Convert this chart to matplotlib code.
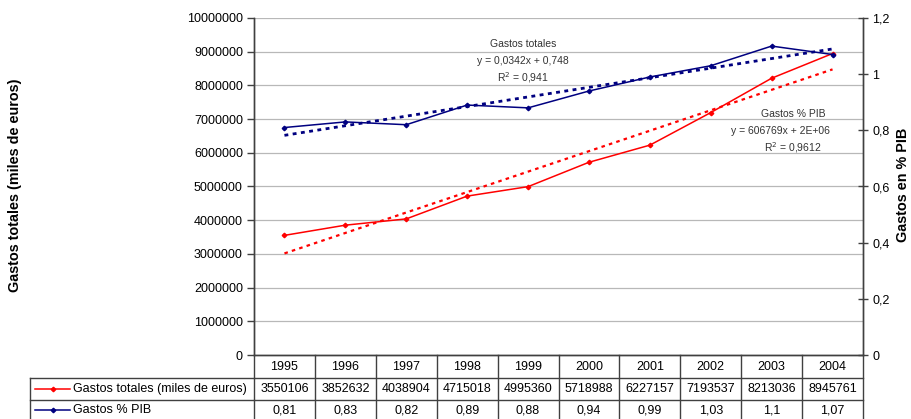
import numpy as np
import matplotlib
matplotlib.use("Agg")
import matplotlib.pyplot as plt
from matplotlib.transforms import blended_transform_factory

plt.rcParams['font.family'] = ['Liberation Sans', 'DejaVu Sans']

years = ['1995', '1996', '1997', '1998', '1999', '2000', '2001', '2002', '2003', '2004']
gastos_totales = [3550106, 3852632, 4038904, 4715018, 4995360, 5718988, 6227157, 7193537, 8213036, 8945761]
gastos_pib = [0.81, 0.83, 0.82, 0.89, 0.88, 0.94, 0.99, 1.03, 1.1, 1.07]
gastos_pib_txt = ['0,81', '0,83', '0,82', '0,89', '0,88', '0,94', '0,99', '1,03', '1,1', '1,07']
series_names = ['Gastos totales (miles de euros)', 'Gastos % PIB']
left_ticks = list(range(0, 10000001, 1000000))
right_ticks = [0, 0.2, 0.4, 0.6, 0.8, 1.0, 1.2]
right_tick_labels = ['0', '0,2', '0,4', '0,6', '0,8', '1', '1,2']

RED = '#FF0000'
BLUE = '#000080'
W, H = 911, 419

fig = plt.figure(figsize=(W / 100, H / 100), dpi=100)
ax = fig.add_axes([254 / W, 1 - 355 / H, (863 - 254) / W, (355 - 18) / H])
ax2 = ax.twinx()

x = np.arange(1, len(years) + 1)

# trendlines
p1 = np.polyfit(x, gastos_totales, 1)
p2 = np.polyfit(x, gastos_pib, 1)
ax.plot(x, np.polyval(p1, x), color=RED, lw=1.6, ls=(0, (1.6, 1.9)), zorder=2)
ax2.plot(x, np.polyval(p2, x), color=BLUE, lw=2.0, ls=(0, (1.4, 1.6)), zorder=2)

ax.plot(x, gastos_totales, color=RED, lw=1.1, marker='D', ms=2.3, zorder=3)
ax2.plot(x, gastos_pib, color=BLUE, lw=1.1, marker='D', ms=2.3, zorder=3)

ax.set_xlim(0.5, len(years) + 0.5)
ax.set_ylim(0, 10000000)
ax2.set_ylim(0, 1.2)
ax.set_yticks(left_ticks)
ax.set_yticklabels([str(v) for v in left_ticks])
ax2.set_yticks(right_ticks)
ax2.set_yticklabels(right_tick_labels)
ax.set_xticks([])
ax.yaxis.grid(True, color='#b8b8b8', lw=0.9)
ax.set_axisbelow(True)

for a in (ax, ax2):
    for s in a.spines.values():
        s.set_color('#404040')
        s.set_linewidth(1.0)
    a.spines['top'].set_visible(False)
ax.tick_params(axis='y', direction='out', length=5, width=1, color='#404040', labelsize=9, pad=3)
ax2.tick_params(axis='y', direction='inout', length=7, width=1, color='#404040', labelsize=9, pad=3)

# trendline annotations
fs = 7.5
for xt, yt, t in [(523, 44, 'Gastos totales'), (523, 61, 'y = 0,0342x + 0,748'), (523, 78, 'R$^{2}$ = 0,941'),
                  (793, 114, 'Gastos % PIB'), (780, 131, 'y = 606769x + 2E+06'), (793, 148, 'R$^{2}$ = 0,9612')]:
    fig.text(xt / W, 1 - yt / H, t, fontsize=fs, ha='center', va='center', color='#333333')

# axis titles
fig.text(15 / W, 1 - 185 / H, 'Gastos totales (miles de euros)', rotation=90, fontsize=10.4,
         fontweight='bold', ha='center', va='center')
fig.text(903 / W, 1 - 185 / H, 'Gastos en % PIB', rotation=90, fontsize=10.4,
         fontweight='bold', ha='center', va='center')

# data table
tr = blended_transform_factory(ax.transData, fig.transFigure)
fy = lambda py: 1 - py / H
lc = '#404040'
y_top, y_r1, y_r2, y_bot = 355, 378, 400, 425
for b in np.arange(0.5, len(years) + 1, 1.0):
    ax.plot([b, b], [fy(y_top), fy(y_bot)], transform=tr, color=lc, lw=1.0, clip_on=False)
ax.plot([0.5, len(years) + 0.5], [fy(y_r1), fy(y_r1)], transform=tr, color=lc, lw=1.0, clip_on=False)
ax.plot([0.5, len(years) + 0.5], [fy(y_r2), fy(y_r2)], transform=tr, color=lc, lw=1.0, clip_on=False)
fig.add_artist(plt.Line2D([30 / W, 254 / W], [fy(y_r1), fy(y_r1)], color=lc, lw=1.0))
fig.add_artist(plt.Line2D([30 / W, 254 / W], [fy(y_r2), fy(y_r2)], color=lc, lw=1.0))
fig.add_artist(plt.Line2D([30 / W, 30 / W], [fy(y_r1), fy(y_bot)], color=lc, lw=1.0))

tfs = 9
for i, yr in enumerate(years):
    ax.text(x[i], fy((y_top + y_r1) / 2), yr, transform=tr, ha='center', va='center', fontsize=tfs)
    ax.text(x[i], fy((y_r1 + y_r2) / 2), str(gastos_totales[i]), transform=tr, ha='center', va='center', fontsize=tfs)
    ax.text(x[i], fy((y_r2 + 420) / 2), gastos_pib_txt[i], transform=tr, ha='center', va='center', fontsize=tfs)

for (name, col, yc) in [(series_names[0], RED, (y_r1 + y_r2) / 2), (series_names[1], BLUE, (y_r2 + 420) / 2)]:
    fig.add_artist(plt.Line2D([35 / W, 70 / W], [fy(yc), fy(yc)], color=col, lw=1.1))
    fig.add_artist(plt.Line2D([52.5 / W], [fy(yc)], color=col, marker='D', ms=2.3))
    fig.text(73 / W, fy(yc), name, ha='left', va='center', fontsize=tfs)

fig.savefig('out.png', dpi=100)
